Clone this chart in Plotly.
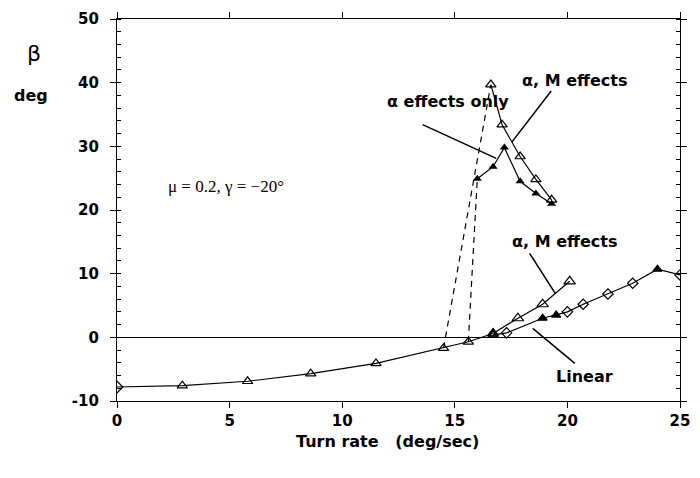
import plotly.graph_objects as go

# ---- data ----
# common lower branch (all models coincide)
low_x = [0.0, 2.9, 5.8, 8.6, 11.5, 14.5, 15.6, 16.7]
low_y = [-7.8, -7.6, -6.9, -5.7, -4.1, -1.7, -0.7, 0.6]

# alpha, M effects: lower stable branch continuation (open triangles)
am_low_x = [16.7, 17.8, 18.9, 20.1]
am_low_y = [0.6, 3.0, 5.2, 8.8]

# linear / alpha-only lower right branch
lin_x = [16.7, 17.3, 18.9, 19.5, 20.0, 20.7, 21.8, 22.9, 24.0, 25.0]
lin_y = [0.4, 0.7, 3.0, 3.5, 4.0, 5.2, 6.8, 8.5, 10.7, 9.8]
lin_filled = [False, False, True, True, False, False, False, False, True, False]
lin_diamond = [False, True, False, False, True, True, True, True, False, True]

# upper branches
am_up_x = [16.6, 17.1, 17.9, 18.6, 19.3]
am_up_y = [39.7, 33.4, 28.4, 24.8, 21.6]
a_up_x = [16.0, 16.7, 17.2, 17.9, 18.6, 19.3]
a_up_y = [24.9, 26.8, 29.8, 24.5, 22.6, 21.0]

# dashed jumps
jump_am_x = [14.5, 16.6]
jump_am_y = [-1.7, 39.7]
jump_a_x = [15.6, 16.0]
jump_a_y = [-0.7, 24.9]

x_ticks = [0, 5, 10, 15, 20, 25]
y_ticks = [-10, 0, 10, 20, 30, 40, 50]

LINE = dict(color="black", width=1.2)
FONT = dict(family="DejaVu Sans", size=16, color="black", weight="bold")
TICKFONT = dict(family="DejaVu Sans", size=15, color="black", weight="bold")

fig = go.Figure()

def tri_open(size=9):
    return dict(symbol="triangle-up-open", size=size, color="black", line=dict(width=1.2, color="black"))

fig.add_trace(go.Scatter(x=jump_am_x, y=jump_am_y, mode="lines",
                         line=dict(color="black", width=1.2, dash="6px,5px")))
fig.add_trace(go.Scatter(x=jump_a_x, y=jump_a_y, mode="lines",
                         line=dict(color="black", width=1.2, dash="6px,5px")))

low_sym = ["diamond-open"] + ["triangle-up-open"] * (len(low_x) - 1)
fig.add_trace(go.Scatter(x=low_x, y=low_y, mode="lines+markers", line=LINE,
                         marker=dict(symbol=low_sym, size=9, color="black",
                                     line=dict(width=1.2, color="black"))))
fig.add_trace(go.Scatter(x=am_low_x, y=am_low_y, mode="lines+markers", line=LINE,
                         marker=tri_open(10)))

lin_sym = ["triangle-up" if f else ("diamond-open" if d else "triangle-up-open")
           for f, d in zip(lin_filled, lin_diamond)]
fig.add_trace(go.Scatter(x=lin_x, y=lin_y, mode="lines+markers", line=LINE,
                         marker=dict(symbol=lin_sym, size=8, color="black",
                                     line=dict(width=1.2, color="black"))))

fig.add_trace(go.Scatter(x=am_up_x, y=am_up_y, mode="lines+markers", line=LINE,
                         marker=tri_open(9)))
fig.add_trace(go.Scatter(x=a_up_x, y=a_up_y, mode="lines+markers", line=LINE,
                         marker=dict(symbol="triangle-up", size=8, color="black")))

# labels with leader lines
labels = [
    ("α, M effects", 20.3, 40.4, 19.28, 38.7, 17.54, 30.7),
    ("α effects only", 14.7, 37.0, 13.57, 33.4, 16.84, 28.1),
    ("α, M effects", 19.85, 15.0, 18.32, 13.2, 19.46, 6.9),
    ("Linear", 20.75, -6.1, 20.33, -4.1, 18.46, 1.4),
]
for txt, tx, ty, x0, y0, x1, y1 in labels:
    fig.add_annotation(x=tx, y=ty, text=txt, showarrow=False, font=FONT,
                       xanchor="center", yanchor="middle")
    fig.add_shape(type="line", x0=x0, y0=y0, x1=x1, y1=y1,
                  line=dict(color="black", width=1.5))

fig.add_annotation(x=4.84, y=23.7, text="μ = 0.2, γ = −20°", showarrow=False,
                   xanchor="center", yanchor="middle",
                   font=dict(family="Liberation Serif", size=17, color="#000000"))

fig.add_annotation(xref="paper", yref="paper", x=-0.147, y=0.909, text="β", showarrow=False,
                   xanchor="center", yanchor="middle",
                   font=dict(family="DejaVu Sans", size=22, color="black"))
fig.add_annotation(xref="paper", yref="paper", x=-0.152, y=0.80, text="deg", showarrow=False,
                   xanchor="center", yanchor="middle", font=FONT)
fig.add_annotation(xref="paper", yref="paper", x=0.48, y=-0.107,
                   xanchor="center", yanchor="middle",
                   text="Turn rate   (deg/sec)", showarrow=False, font=FONT)

fig.update_xaxes(range=[0, 25], tickvals=x_ticks, ticktext=[str(v) for v in x_ticks],
                 showgrid=False, zeroline=False, showline=True, linecolor="black",
                 linewidth=1.2, mirror="allticks", ticks="outside", ticklen=6,
                 tickcolor="black", tickfont=TICKFONT)
fig.update_yaxes(range=[-10, 50], tickvals=y_ticks, ticktext=[str(v) for v in y_ticks],
                 showgrid=False, zeroline=True, zerolinecolor="black", zerolinewidth=1.2,
                 showline=True, linecolor="black", linewidth=1.2, mirror="allticks",
                 ticks="outside", ticklen=6, tickcolor="black", tickfont=TICKFONT,
                 ticklabelstandoff=8,
                 minor=dict(ticks="inside", dtick=2, ticklen=4, tickcolor="black"))

fig.update_layout(width=700, height=478, showlegend=False,
                  margin=dict(l=117, r=10, t=18, b=77),
                  plot_bgcolor="white", paper_bgcolor="white")

fig.write_html("out.html")
